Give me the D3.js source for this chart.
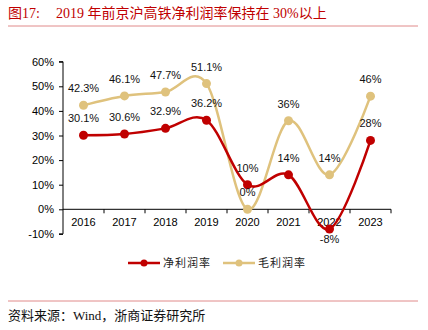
<!DOCTYPE html>
<html>
<head>
<meta charset="utf-8">
<script src="https://cdn.jsdelivr.net/npm/d3@7"></script>
<style>
  body { margin: 0; background: #fff; }
  svg { display: block; }
</style>
</head>
<body>
<svg id="chart" width="428" height="330"></svg>
<script>
// years and the two margin series (%)
const years = ["2016", "2017", "2018", "2019", "2020", "2021", "2022", "2023"];
const netMargin = [30.1, 30.6, 32.9, 36.2, 10, 14, -8, 28];
const grossMargin = [42.3, 46.1, 47.7, 51.1, 0, 36, 14, 46];
const netLabels = ["30.1%", "30.6%", "32.9%", "36.2%", "10%", "14%", "-8%", "28%"];
const grossLabels = ["42.3%", "46.1%", "47.7%", "51.1%", "0%", "36%", "14%", "46%"];
const yTicks = [-10, 0, 10, 20, 30, 40, 50, 60];

const red = "#C00000", gold = "#DFC27D";
const serif = "'Liberation Serif', 'Noto Sans CJK SC', serif";
const sans = "'Liberation Sans', Arial, sans-serif";

const svg = d3.select("#chart");

// title
svg.append("text")
    .attr("x", 8).attr("y", 18)
    .attr("fill", red)
    .attr("font-family", serif)
    .attr("font-size", "14px")
    .text("图17:");
svg.append("text")
    .attr("x", 56).attr("y", 18)
    .attr("fill", red)
    .attr("font-family", serif)
    .attr("font-size", "14px")
    .text("2019 年前京沪高铁净利润率保持在 30%以上");

svg.append("line")
    .attr("x1", 8).attr("x2", 418)
    .attr("y1", 26).attr("y2", 26)
    .attr("stroke", "#E08A8A").attr("stroke-width", 1);

// plot area
const x = d3.scaleBand().domain(years).range([63, 391]);
const y = d3.scaleLinear().domain([-10, 60]).range([233.9, 61.7]);

const g = svg.append("g");

// y axis
g.append("g")
    .attr("transform", "translate(63,0)")
    .call(d3.axisLeft(y).tickValues(yTicks).tickFormat(d => d + "%").tickSize(4).tickPadding(5))
    .call(a => a.select(".domain").attr("stroke", "#000").attr("d", `M-4,${y(60)}H0V${y(-10)}H-4`))
    .call(a => a.selectAll("line").attr("stroke", "#000"))
    .call(a => a.selectAll("text").attr("font-family", sans).attr("font-size", "11px").attr("fill", "#000"));

// x axis on the zero line, ticks at band edges
const xAxis = g.append("g").attr("transform", `translate(0,${y(0)})`);
xAxis.append("line")
    .attr("x1", 63).attr("x2", 391)
    .attr("stroke", "#000");
xAxis.selectAll("line.tk")
    .data(years.map(d => x(d)).concat([x.range()[1]]).slice(1))
    .join("line")
    .attr("class", "tk")
    .attr("x1", d => d).attr("x2", d => d)
    .attr("y1", 0).attr("y2", 4)
    .attr("stroke", "#000");
xAxis.selectAll("text")
    .data(years)
    .join("text")
    .attr("x", d => x(d) + x.bandwidth() / 2)
    .attr("y", 17)
    .attr("text-anchor", "middle")
    .attr("font-family", sans)
    .attr("font-size", "11px")
    .text(d => d);

const line = d3.line()
    .x((d, i) => x(years[i]) + x.bandwidth() / 2)
    .y(d => y(d))
    .curve(d3.curveCardinal.tension(0));

function drawSeries(values, color) {
    g.append("path")
        .datum(values)
        .attr("fill", "none")
        .attr("stroke", color)
        .attr("stroke-width", 2.5)
        .attr("d", line);
    g.selectAll(null)
        .data(values)
        .join("circle")
        .attr("cx", (d, i) => x(years[i]) + x.bandwidth() / 2)
        .attr("cy", d => y(d))
        .attr("r", 4.5)
        .attr("fill", color);
}

drawSeries(grossMargin, gold);
drawSeries(netMargin, red);

// data labels: above the point, below for negatives
function drawLabels(values, labels) {
    g.selectAll(null)
        .data(values)
        .join("text")
        .attr("x", (d, i) => x(years[i]) + x.bandwidth() / 2)
        .attr("y", d => d < 0 ? y(d) + 14 : y(d) - 13)
        .attr("text-anchor", "middle")
        .attr("font-family", sans)
        .attr("font-size", "11px")
        .attr("fill", "#111")
        .text((d, i) => labels[i]);
}
drawLabels(grossMargin, grossLabels);
drawLabels(netMargin, netLabels);

// legend
const legendItems = [
    { name: "净利润率", color: red, x: 128 },
    { name: "毛利润率", color: gold, x: 223 }
];
const lg = svg.append("g").attr("transform", "translate(0,263)");
legendItems.forEach(it => {
    lg.append("line")
        .attr("x1", it.x).attr("x2", it.x + 32)
        .attr("stroke", it.color).attr("stroke-width", 2.5);
    lg.append("circle")
        .attr("cx", it.x + 16).attr("r", 3.5)
        .attr("fill", it.color);
    lg.append("text")
        .attr("x", it.x + 35).attr("y", 4)
        .attr("font-family", serif)
        .attr("font-size", "11px")
        .attr("letter-spacing", "1px")
        .attr("fill", "#222")
        .text(it.name);
});

// footer
svg.append("line")
    .attr("x1", 8).attr("x2", 418)
    .attr("y1", 301).attr("y2", 301)
    .attr("stroke", "#E08A8A").attr("stroke-width", 1);
svg.append("text")
    .attr("x", 8).attr("y", 320)
    .attr("font-family", serif)
    .attr("font-size", "13px")
    .attr("fill", "#111")
    .text("资料来源：Wind，浙商证券研究所");
</script>
</body>
</html>
